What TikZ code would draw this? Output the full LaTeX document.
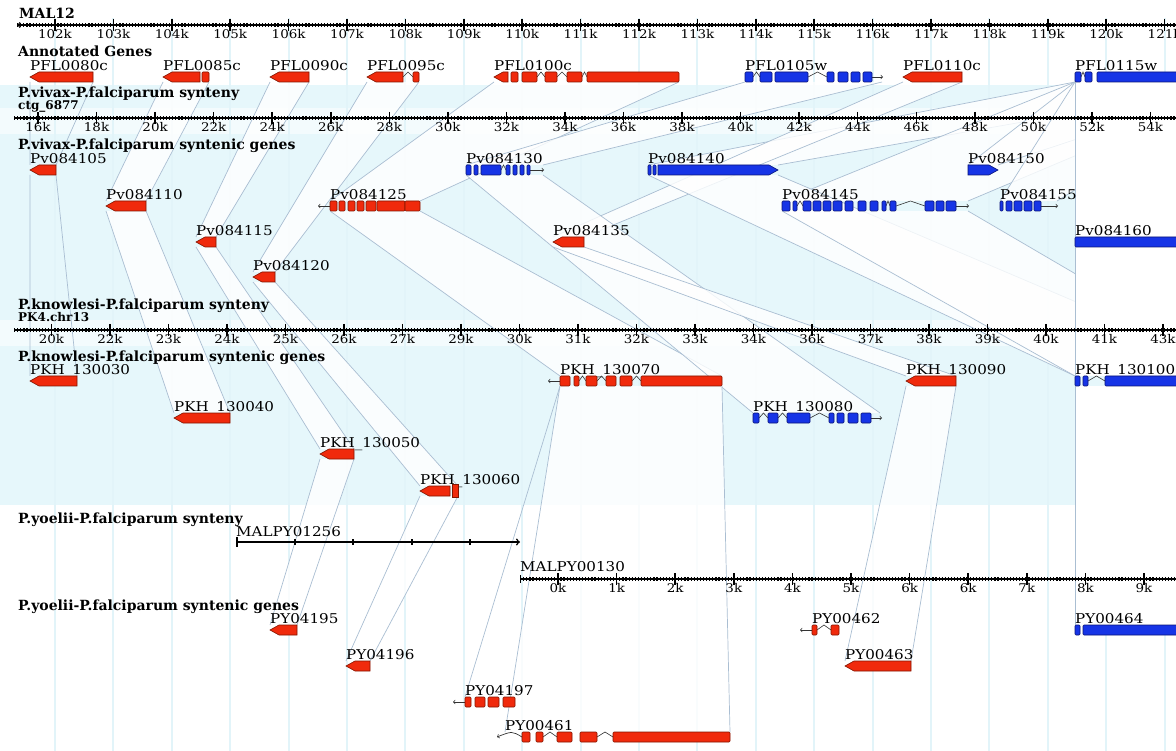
\documentclass[tikz,border=0pt]{standalone}
\usepackage{fontspec}
\setmainfont{DejaVu Serif}
\newfontfamily\labfont[FakeStretch=1.12]{DejaVu Serif}
\usetikzlibrary{positioning}

\definecolor{genered}{RGB}{240,42,12}
\definecolor{redline}{RGB}{130,20,0}
\definecolor{geneblue}{RGB}{22,52,230}
\definecolor{blueline}{RGB}{10,20,120}
\definecolor{synbg}{RGB}{230,247,251}
\definecolor{synline}{RGB}{170,190,210}
\definecolor{gridc}{RGB}{226,244,249}

\pgfdeclarelayer{bg}
\pgfdeclarelayer{band}
\pgfsetlayers{bg,band,main}

\tikzset{
  redg/.style={fill=genered, draw=redline, line width=0.6pt},
  blueg/.style={fill=geneblue, draw=blueline, line width=0.6pt},
  intron/.style={draw=black!80, line width=0.6pt},
  tail/.style={draw=black!80, line width=0.7pt},
  glab/.style={anchor=base west, inner sep=0pt, font=\labfont\fontsize{13.5}{14}\selectfont},
  tick/.style={anchor=north, inner sep=0pt, font=\labfont\fontsize{12}{13}\selectfont},
  head/.style={anchor=base west, inner sep=0pt, font=\fontsize{14}{15}\selectfont\bfseries},
  seqname/.style={anchor=base west, inner sep=0pt, font=\fontsize{12}{13}\selectfont\bfseries},
  rulerline/.style={line width=1.2pt},
  beads/.style={line width=4.5pt, dash pattern=on 1.2pt off 1.9pt},
  major/.style={line width=1.5pt},
  bandfill/.style={fill=white, fill opacity=0.8},
  bandnone/.style={fill opacity=0},
  column/.style={fill=white},
  bandline/.style={draw=synline, line width=0.7pt}
}

% gene corners and label
\newcommand{\gene}[5]{%
  \coordinate (#1-tl) at (#3,#5-5);
  \coordinate (#1-tr) at (#4,#5-5);
  \coordinate (#1-bl) at (#3,#5+5);
  \coordinate (#1-br) at (#4,#5+5);
  \node[glab] (#1-lab) at (#3,#5-6.5) {#2};}
\newcommand{\gleft}[4]{%
  \filldraw[#4] (#1,#3) -- (#1+9,#3-5) -- (#2,#3-5) -- (#2,#3+5) -- (#1+9,#3+5) -- cycle;}
\newcommand{\gright}[4]{%
  \filldraw[#4] (#1,#3-5) -- (#2-9,#3-5) -- (#2,#3) -- (#2-9,#3+5) -- (#1,#3+5) -- cycle;}
\newcommand{\exons}[3]{%
  \foreach \p/\q in {#3} {\filldraw[#2, rounded corners=1pt] (\p,#1-5) rectangle (\q,#1+5);}}
\newcommand{\intr}[3]{\draw[intron] (#1,#3) -- ({(#1+#2)/2},#3-5) -- (#2,#3);}
\newcommand{\band}[3][bandfill]{%
  \begin{pgfonlayer}{band}
    \fill[#1] (#2-bl) -- (#2-br) -- (#3-tr) -- (#3-tl) -- cycle;
    \draw[bandline] (#2-bl) -- (#3-tl) (#2-br) -- (#3-tr);
  \end{pgfonlayer}}
\newcommand{\ruler}[4][]{%
  \draw[rulerline,#1] (#3,#2) -- (#4,#2);
  \draw[beads] (#3,#2) -- (#4,#2);}

\begin{document}
\begin{tikzpicture}[x=1pt,y=-1pt]
\useasboundingbox (0,0) rectangle (1176,751);
\clip (0,0) rectangle (1176,751);

\begin{pgfonlayer}{bg}
  \fill[synbg] (0,85) rectangle (1176,505);
  \fill[white, opacity=0.55] (0,108) rectangle (1176,134);
  \fill[white, opacity=0.55] (0,320) rectangle (1176,346);
  \foreach \i in {0,...,19}
    \draw[gridc, line width=2pt] (55+58.4*\i,18) -- (55+58.4*\i,751);
\end{pgfonlayer}

% rulers
\node[head] (mal12) at (19,19) {MAL12};
\ruler[<-]{25}{17}{1176}
\foreach \n [count=\i from 0] in {102,...,121} {
  \draw[major] (55+58.4*\i,19) -- (55+58.4*\i,31);
  \node[tick] (r1-\i) at (55+58.4*\i,29) {\n k};}

\node[head] (hann) at (18,57) {Annotated Genes};
\node[head] (hviv) at (18,98) {P.vivax-P.falciparum synteny};
\node[seqname] (ctg) at (18,110) {ctg\_6877};
\ruler{118}{14}{1176}
\foreach \n [count=\i from 0] in {16,18,...,54} {
  \draw[major] (38+58.55*\i,112) -- (38+58.55*\i,124);
  \node[tick] (r2-\i) at (38+58.55*\i,122) {\n k};}
\node[head] (hvivg) at (18,150) {P.vivax-P.falciparum syntenic genes};

\node[head] (hkno) at (18,310) {P.knowlesi-P.falciparum synteny};
\node[seqname] (pk4) at (18,322) {PK4.chr13};
\ruler{330}{14}{1176}
\foreach \n [count=\i from 0] in {20,22,23,24,25,26,27,29,30,31,32,33,34,36,37,38,39,40,41,43} {
  \draw[major] (51.5+58.5*\i,324) -- (51.5+58.5*\i,336);
  \node[tick] (r3-\i) at (51.5+58.5*\i,334) {\n k};}
\node[head] (hknog) at (18,362) {P.knowlesi-P.falciparum syntenic genes};

\node[head] (hyoe) at (18,523) {P.yoelii-P.falciparum synteny};
\node[glab] (py1256) at (236,536) {MALPY01256};
\draw[major, |->] (236,542) -- (520,542);
\foreach \x in {295,353,412,470}
  \draw[major] (\x,539) -- (\x,545);
\node[glab] (py130) at (520,571) {MALPY00130};
\ruler[|-]{579}{520}{1176}
\foreach \n [count=\i from 0] in {0,1,2,3,4,5,6,6,7,8,9} {
  \draw[major] (558+58.6*\i,573) -- (558+58.6*\i,585);
  \node[tick] (r5-\i) at (558+58.6*\i,583) {\n k};}
\node[head] (hyoeg) at (18,610) {P.yoelii-P.falciparum syntenic genes};

% P.falciparum genes
\gene{pfl80}{PFL0080c}{30}{93}{77}   \gleft{30}{93}{77}{redg}
\gene{pfl85}{PFL0085c}{163}{209}{77} \gleft{163}{200}{77}{redg} \exons{77}{redg}{202/209}
\gene{pfl90}{PFL0090c}{270}{309}{77} \gleft{270}{309}{77}{redg}
\gene{pfl95}{PFL0095c}{367}{419}{77} \gleft{367}{403}{77}{redg} \intr{403}{413}{77} \exons{77}{redg}{413/419}
\gene{pfl100}{PFL0100c}{494}{679}{77}
\intr{537}{545}{77} \intr{557}{567}{77} \intr{582}{587}{77}
\gleft{494}{508}{77}{redg} \exons{77}{redg}{511/518,522/537,545/557,567/582,587/679}
\gene{pfl105}{PFL0105w}{745}{882}{77}
\intr{753}{760}{77} \intr{808}{827}{77} \draw[tail,->] (872,77) -- (883,77);
\exons{77}{blueg}{745/753,760/772,775/808,827/834,838/848,851/860,863/872}
\gene{pfl110}{PFL0110c}{903}{962}{77} \gleft{903}{962}{77}{redg}
\gene{pfl115}{PFL0115w}{1075}{1250}{77}
\intr{1081}{1085}{77} \exons{77}{blueg}{1075/1081,1085/1092,1097/1190}

% P.vivax genes
\gene{pv105}{Pv084105}{30}{56}{170}   \gleft{30}{56}{170}{redg}
\gene{pv110}{Pv084110}{106}{146}{206} \gleft{106}{146}{206}{redg}
\gene{pv115}{Pv084115}{196}{216}{242} \gleft{196}{216}{242}{redg}
\gene{pv120}{Pv084120}{253}{275}{277} \gleft{253}{275}{277}{redg}
\gene{pv125}{Pv084125}{330}{420}{206}
\draw[tail,->] (330,206) -- (318,206);
\exons{206}{redg}{330/337,339/345,348/355,357/364,366/376,377/405,405/420}
\gene{pv130}{Pv084130}{466}{543}{170}
\intr{501}{506}{170} \draw[tail,->] (530,170) -- (544,170);
\exons{170}{blueg}{466/471,474/478,481/501,506/510,513/517,520/524,527/530}
\gene{pv135}{Pv084135}{553}{584}{242} \gleft{553}{584}{242}{redg}
\gene{pv140}{Pv084140}{648}{778}{170}
\exons{170}{blueg}{648/651,653/656} \gright{658}{778}{170}{blueg}
\gene{pv150}{Pv084150}{968}{998}{170} \gright{968}{998}{170}{blueg}
\gene{pv145}{Pv084145}{782}{968}{206}
\intr{797}{803}{206} \intr{886}{890}{206} \intr{896}{925}{206} \draw[tail,->] (956,206) -- (969,206);
\exons{206}{blueg}{782/790,793/797,803/811,813/821,823/831,833/842,845/853,858/866,870/878,882/886,890/896,925/934,936/944,946/956}
\gene{pv155}{Pv084155}{1000}{1057}{206}
\draw[tail,->] (1041,206) -- (1058,206);
\exons{206}{blueg}{1000/1003,1006/1012,1014/1022,1024/1032,1034/1041}
\gene{pv160}{Pv084160}{1075}{1250}{242} \exons{242}{blueg}{1075/1190}

% P.knowlesi genes
\gene{pkh30}{PKH\_130030}{30}{77}{381}   \gleft{30}{77}{381}{redg}
\gene{pkh40}{PKH\_130040}{174}{230}{418} \gleft{174}{230}{418}{redg}
\gene{pkh50}{PKH\_130050}{320}{354}{454} \gleft{320}{354}{454}{redg}
\gene{pkh60}{PKH\_130060}{420}{458}{491}
\gleft{420}{450}{491}{redg} \filldraw[redg] (452,484) rectangle (458,497);
\gene{pkh70}{PKH\_130070}{560}{722}{381}
\draw[tail,->] (560,381) -- (548,381);
\intr{579}{586}{381} \intr{597}{606}{381} \intr{632}{641}{381}
\exons{381}{redg}{560/570,574/579,586/597,606/616,620/632,641/722}
\gene{pkh80}{PKH\_130080}{753}{880}{418}
\intr{759}{768}{418} \intr{778}{787}{418} \intr{810}{829}{418} \draw[tail,->] (871,418) -- (882,418);
\exons{418}{blueg}{753/759,768/778,787/810,829/834,837/844,848/858,861/871}
\gene{pkh90}{PKH\_130090}{906}{956}{381} \gleft{906}{956}{381}{redg}
\gene{pkh100}{PKH\_130100}{1075}{1250}{381}
\intr{1088}{1105}{381} \exons{381}{blueg}{1075/1080,1083/1088,1105/1190}

% P.yoelii genes
\gene{py95}{PY04195}{270}{297}{630} \gleft{270}{297}{630}{redg}
\gene{py96}{PY04196}{346}{370}{666} \gleft{346}{370}{666}{redg}
\gene{py97}{PY04197}{465}{515}{702}
\draw[tail,->] (465,702) -- (453,702);
\exons{702}{redg}{465/471,475/485,488/499,503/515}
\gene{py61}{PY00461}{505}{730}{737}
\draw[tail,->] (522,737) .. controls (512,731) .. (497,737);
\intr{543}{557}{737} \intr{597}{613}{737}
\exons{737}{redg}{522/530,536/543,557/572,580/597,613/730}
\gene{py62}{PY00462}{812}{839}{630}
\draw[tail,->] (812,630) -- (800,630); \intr{817}{831}{630}
\exons{630}{redg}{812/817,831/839}
\gene{py63}{PY00463}{845}{911}{666} \gleft{845}{911}{666}{redg}
\gene{py64}{PY00464}{1075}{1250}{630} \exons{630}{blueg}{1075/1080,1083/1190}

% synteny bands
\band{pfl115}{pv140}
\band{pfl115}{pv145}
\band{pfl115}{pv150}
\band{pfl115}{pv155}
\band[bandnone]{pfl80}{pv105}
\band{pfl85}{pv110}
\band{pfl90}{pv115}
\band{pfl95}{pv120}
\band{pfl100}{pv125}
\band{pfl105}{pv130}
\band{pfl110}{pv135}
\band{pv140}{pkh100}
\band{pv145}{pkh100}
\band[bandnone]{pv105}{pkh30}
\band{pv110}{pkh40}
\band{pv115}{pkh50}
\band{pv120}{pkh60}
\band{pv125}{pkh70}
\band{pv130}{pkh80}
\band{pv135}{pkh90}
\band{pkh50}{py95}
\band{pkh60}{py96}
\band{pkh90}{py63}
\band{pkh70}{py61}
\begin{pgfonlayer}{band}
  \draw[bandline] (pkh70-bl) -- (py97-tl);
\end{pgfonlayer}
\band[column]{pfl115}{pv160}
\band[column]{pv160}{pkh100}
\band[column]{pkh100}{py64}
\end{tikzpicture}
\end{document}
